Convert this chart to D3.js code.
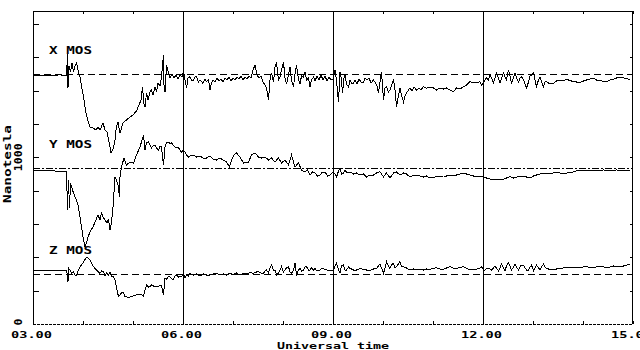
<!DOCTYPE html>
<html><head><meta charset="utf-8">
<script src="https://cdn.jsdelivr.net/npm/d3@7"></script>
<style>html,body{margin:0;padding:0;background:#fff;overflow:hidden}</style>
</head><body>
<svg id="c" width="640" height="350"></svg>
<script>
// Universal time (decimal hours), field (nanotesla, plotted offset)
const xMos = [[3.00,1490],[3.34,1490],[3.54,1495],[3.67,1490],[3.69,1620],[3.70,1416],[3.72,1548],[3.75,1512],[3.78,1566],[3.81,1512],[3.84,1548],[3.87,1566],[3.91,1512],[3.94,1482],[4.01,1362],[4.06,1266],[4.11,1206],[4.14,1182],[4.20,1176],[4.26,1164],[4.30,1182],[4.34,1164],[4.40,1206],[4.44,1164],[4.48,1152],[4.54,1062],[4.56,1026],[4.61,1056],[4.64,1104],[4.67,1188],[4.70,1212],[4.74,1146],[4.80,1206],[4.87,1224],[4.94,1242],[5.00,1254],[5.07,1278],[5.12,1314],[5.16,1344],[5.19,1422],[5.22,1320],[5.24,1302],[5.27,1386],[5.30,1344],[5.34,1392],[5.37,1404],[5.40,1374],[5.44,1422],[5.47,1392],[5.50,1446],[5.54,1428],[5.57,1482],[5.61,1614],[5.62,1434],[5.64,1392],[5.67,1554],[5.71,1506],[5.74,1476],[5.78,1500],[5.82,1476],[5.86,1494],[5.90,1470],[5.94,1494],[5.98,1482],[6.01,1514],[6.04,1464],[6.07,1416],[6.10,1476],[6.14,1484],[6.18,1458],[6.21,1464],[6.24,1482],[6.27,1484],[6.31,1452],[6.34,1464],[6.40,1444],[6.44,1470],[6.47,1454],[6.51,1464],[6.54,1404],[6.57,1446],[6.60,1464],[6.64,1452],[6.68,1476],[6.72,1458],[6.76,1470],[6.80,1452],[6.84,1476],[6.88,1464],[6.92,1482],[6.96,1458],[7.00,1476],[7.04,1464],[7.08,1482],[7.12,1470],[7.16,1488],[7.20,1464],[7.24,1482],[7.28,1470],[7.32,1488],[7.36,1476],[7.40,1524],[7.44,1554],[7.48,1494],[7.52,1476],[7.56,1488],[7.60,1452],[7.64,1434],[7.67,1416],[7.71,1344],[7.74,1464],[7.77,1506],[7.81,1452],[7.84,1542],[7.87,1572],[7.91,1464],[7.94,1482],[7.97,1524],[8.01,1572],[8.04,1476],[8.07,1440],[8.11,1494],[8.14,1542],[8.17,1464],[8.21,1422],[8.24,1500],[8.27,1554],[8.31,1464],[8.34,1440],[8.37,1488],[8.41,1482],[8.44,1512],[8.47,1464],[8.51,1476],[8.54,1422],[8.57,1464],[8.61,1482],[8.64,1458],[8.68,1488],[8.72,1464],[8.76,1494],[8.80,1464],[8.84,1488],[8.88,1458],[8.92,1482],[8.96,1464],[9.00,1470],[9.04,1524],[9.07,1464],[9.11,1332],[9.14,1512],[9.17,1464],[9.19,1386],[9.22,1476],[9.24,1494],[9.27,1440],[9.31,1422],[9.34,1464],[9.38,1440],[9.41,1446],[9.44,1464],[9.48,1440],[9.52,1470],[9.56,1452],[9.61,1452],[9.64,1476],[9.68,1464],[9.72,1476],[9.76,1446],[9.81,1464],[9.84,1452],[9.88,1428],[9.91,1386],[9.94,1452],[9.97,1512],[10.01,1344],[10.04,1416],[10.07,1422],[10.11,1392],[10.14,1404],[10.17,1434],[10.21,1464],[10.24,1404],[10.27,1302],[10.31,1374],[10.34,1416],[10.37,1374],[10.41,1332],[10.44,1368],[10.47,1386],[10.51,1404],[10.54,1416],[10.58,1398],[10.62,1422],[10.67,1404],[10.72,1416],[10.76,1404],[10.81,1424],[10.87,1414],[10.94,1422],[11.01,1416],[11.07,1404],[11.14,1416],[11.21,1410],[11.27,1416],[11.34,1404],[11.41,1394],[11.47,1416],[11.54,1410],[11.61,1424],[11.67,1434],[11.74,1454],[11.81,1446],[11.87,1448],[11.94,1454],[11.97,1434],[12.01,1444],[12.04,1464],[12.07,1476],[12.11,1464],[12.14,1494],[12.17,1476],[12.21,1446],[12.24,1476],[12.27,1506],[12.31,1476],[12.34,1446],[12.37,1476],[12.41,1506],[12.44,1482],[12.47,1464],[12.51,1524],[12.54,1488],[12.57,1446],[12.61,1476],[12.64,1506],[12.67,1476],[12.71,1452],[12.74,1476],[12.77,1484],[12.81,1464],[12.84,1440],[12.87,1416],[12.91,1452],[12.94,1488],[12.97,1494],[13.01,1506],[13.04,1464],[13.07,1424],[13.11,1464],[13.14,1484],[13.17,1452],[13.21,1424],[13.24,1452],[13.27,1454],[13.34,1440],[13.41,1444],[13.47,1458],[13.54,1464],[13.61,1461],[13.67,1468],[13.74,1461],[13.81,1454],[13.87,1452],[13.94,1448],[14.01,1458],[14.07,1464],[14.14,1470],[14.21,1474],[14.27,1464],[14.34,1464],[14.41,1454],[14.47,1454],[14.54,1464],[14.61,1468],[14.67,1476],[14.74,1478],[14.81,1476],[14.87,1474],[14.94,1464]];

const yMos = [[3.00,924],[3.24,921],[3.44,918],[3.67,918],[3.69,684],[3.71,864],[3.73,696],[3.75,846],[3.79,804],[3.84,762],[3.87,744],[3.90,714],[3.94,642],[3.97,582],[4.01,504],[4.04,462],[4.07,486],[4.10,522],[4.14,552],[4.20,582],[4.24,612],[4.30,654],[4.34,624],[4.37,666],[4.40,642],[4.44,624],[4.48,606],[4.51,630],[4.54,564],[4.57,612],[4.60,702],[4.64,882],[4.67,864],[4.70,834],[4.73,762],[4.74,882],[4.77,942],[4.82,996],[4.87,954],[4.94,972],[5.01,966],[5.07,1014],[5.14,1062],[5.21,1134],[5.24,1044],[5.27,1086],[5.31,1092],[5.34,1074],[5.37,1056],[5.41,1074],[5.44,1074],[5.47,1056],[5.51,1044],[5.54,1068],[5.57,1062],[5.61,954],[5.64,1062],[5.67,1092],[5.71,1092],[5.74,1080],[5.77,1086],[5.84,1062],[5.91,1056],[5.97,1032],[6.01,1044],[6.04,1032],[6.07,1014],[6.11,1002],[6.16,1014],[6.21,1014],[6.27,1002],[6.34,1008],[6.40,996],[6.47,996],[6.54,1008],[6.60,990],[6.67,984],[6.74,996],[6.80,984],[6.87,972],[6.93,942],[6.97,984],[7.02,1014],[7.07,1026],[7.14,1002],[7.21,966],[7.26,972],[7.31,972],[7.37,1014],[7.44,1026],[7.51,1002],[7.57,996],[7.64,1002],[7.71,984],[7.77,996],[7.84,972],[7.91,996],[7.97,966],[8.04,984],[8.11,954],[8.17,1014],[8.24,942],[8.31,966],[8.37,924],[8.44,912],[8.49,924],[8.54,894],[8.59,912],[8.64,906],[8.69,888],[8.74,894],[8.79,912],[8.84,912],[8.89,888],[8.94,894],[9.01,912],[9.04,900],[9.07,882],[9.11,918],[9.14,936],[9.17,900],[9.21,906],[9.24,924],[9.27,912],[9.34,912],[9.41,900],[9.47,906],[9.54,894],[9.61,900],[9.67,882],[9.74,894],[9.81,894],[9.87,906],[9.94,914],[10.01,882],[10.07,906],[10.14,876],[10.21,906],[10.27,912],[10.34,894],[10.41,906],[10.47,900],[10.54,882],[10.61,894],[10.67,894],[10.74,888],[10.81,882],[10.87,888],[10.94,876],[11.01,879],[11.07,884],[11.14,885],[11.21,888],[11.27,888],[11.34,894],[11.41,894],[11.47,894],[11.54,900],[11.61,904],[11.67,900],[11.74,894],[11.81,888],[11.87,884],[11.94,888],[12.01,884],[12.07,876],[12.14,870],[12.21,867],[12.27,864],[12.34,870],[12.41,868],[12.47,876],[12.54,884],[12.61,876],[12.67,880],[12.74,888],[12.81,888],[12.87,882],[12.94,876],[13.01,888],[13.07,894],[13.14,900],[13.21,904],[13.27,903],[13.34,904],[13.47,908],[13.61,904],[13.74,908],[13.87,918],[14.01,920],[14.14,918],[14.27,920],[14.41,924],[14.54,918],[14.67,924],[14.81,920],[14.94,924]];

const zMos = [[3.00,324],[3.34,324],[3.67,324],[3.69,288],[3.70,252],[3.71,336],[3.74,324],[3.77,306],[3.81,312],[3.84,294],[3.87,294],[3.91,324],[3.94,342],[4.01,372],[4.07,400],[4.10,396],[4.14,384],[4.21,344],[4.27,324],[4.34,304],[4.37,318],[4.41,312],[4.44,288],[4.47,306],[4.51,294],[4.54,312],[4.57,288],[4.61,284],[4.64,264],[4.67,216],[4.71,164],[4.74,174],[4.77,186],[4.80,192],[4.84,164],[4.88,162],[4.94,162],[5.00,168],[5.06,174],[5.14,180],[5.21,168],[5.24,204],[5.27,234],[5.31,222],[5.34,224],[5.37,234],[5.41,228],[5.44,222],[5.51,224],[5.54,234],[5.57,234],[5.61,174],[5.64,274],[5.67,270],[5.71,284],[5.74,282],[5.77,274],[5.80,264],[5.84,288],[5.87,294],[5.91,282],[5.94,284],[5.97,282],[6.01,300],[6.04,276],[6.07,294],[6.11,288],[6.14,303],[6.21,294],[6.27,300],[6.34,288],[6.41,300],[6.47,294],[6.54,294],[6.61,300],[6.67,304],[6.74,294],[6.81,300],[6.87,294],[6.94,304],[7.01,298],[7.07,306],[7.14,294],[7.21,303],[7.27,300],[7.34,309],[7.41,304],[7.47,312],[7.51,314],[7.57,303],[7.61,304],[7.64,318],[7.67,324],[7.71,306],[7.74,336],[7.77,354],[7.81,324],[7.84,324],[7.87,294],[7.91,304],[7.94,324],[7.97,344],[8.01,312],[8.04,324],[8.07,336],[8.11,344],[8.14,312],[8.17,304],[8.21,324],[8.24,364],[8.27,294],[8.31,324],[8.34,334],[8.37,318],[8.41,324],[8.44,342],[8.47,344],[8.51,324],[8.54,324],[8.57,336],[8.61,324],[8.64,334],[8.68,318],[8.74,324],[8.78,336],[8.84,328],[8.90,321],[8.94,324],[9.01,324],[9.04,348],[9.07,364],[9.11,324],[9.14,304],[9.17,348],[9.21,354],[9.24,324],[9.27,324],[9.31,342],[9.34,334],[9.41,324],[9.47,324],[9.54,332],[9.61,328],[9.67,324],[9.74,320],[9.81,330],[9.87,334],[9.91,348],[9.94,360],[9.97,336],[10.01,304],[10.04,336],[10.07,374],[10.11,348],[10.14,334],[10.17,354],[10.21,364],[10.24,336],[10.27,344],[10.31,360],[10.34,374],[10.37,348],[10.41,344],[10.47,336],[10.54,324],[10.61,330],[10.67,328],[10.74,330],[10.81,324],[10.87,330],[10.94,328],[11.01,333],[11.07,338],[11.14,330],[11.21,328],[11.27,336],[11.34,344],[11.41,334],[11.47,334],[11.54,340],[11.61,344],[11.67,334],[11.74,324],[11.81,328],[11.87,328],[11.94,336],[11.97,344],[12.01,324],[12.04,324],[12.07,334],[12.11,334],[12.14,330],[12.17,324],[12.21,336],[12.24,348],[12.27,336],[12.31,320],[12.34,336],[12.37,360],[12.41,336],[12.44,320],[12.47,348],[12.51,368],[12.54,348],[12.57,324],[12.61,342],[12.64,360],[12.67,342],[12.71,324],[12.74,342],[12.77,354],[12.81,354],[12.84,336],[12.87,324],[12.91,324],[12.94,340],[12.97,354],[13.01,320],[13.04,336],[13.07,354],[13.11,336],[13.14,324],[13.17,342],[13.21,360],[13.24,342],[13.27,334],[13.34,327],[13.41,324],[13.47,330],[13.54,334],[13.61,336],[13.67,340],[13.74,339],[13.81,338],[13.87,339],[13.94,340],[14.01,342],[14.07,344],[14.14,340],[14.21,340],[14.27,342],[14.34,344],[14.41,342],[14.47,340],[14.54,342],[14.61,348],[14.67,344],[14.74,344],[14.81,348],[14.87,352],[14.94,360]];

const seriesNames = ["X  MOS", "Y  MOS", "Z  MOS"];
const baselineValues = [1500, 935, 300];
const hourTicks = [3,4,5,6,7,8,9,10,11,12,13,14,15];
const labelHours = [3, 6, 9, 12, 15];
const labelTexts = ["03.00", "06.00", "09.00", "12.00", "15.00"];
const markerHours = [6, 9, 12];
const nTTicks = [200,400,600,800,1000,1200,1400,1600,1800];
const yLabelValues = [1000, 0];
const yLabelTexts = ["1000", "0"];
const xTitle = "Universal time";
const yTitle = "Nanotesla";

const svg = d3.select("#c");
const L = 33, R = 632, T = 11, B = 324;
const x = d3.scaleLinear().domain([3, 15]).range([33, 633]);
const y = d3.scaleLinear().domain([0, 1878]).range([B, T]);
const font = "'DejaVu Sans Mono', monospace";

const g = svg.append("g").attr("shape-rendering", "crispEdges");

// frame
g.append("line").attr("x1", L).attr("x2", R).attr("y1", T + 0.5).attr("y2", T + 0.5).attr("stroke", "#000");
g.append("line").attr("x1", L + 0.5).attr("x2", L + 0.5).attr("y1", T).attr("y2", B).attr("stroke", "#000");
g.append("line").attr("x1", R + 0.5).attr("x2", R + 0.5).attr("y1", T).attr("y2", B).attr("stroke", "#000");
g.append("line").attr("x1", L).attr("x2", R + 1).attr("y1", B + 0.5).attr("y2", B + 0.5)
  .attr("stroke", "#000").attr("stroke-dasharray", "3,1");

// top ticks (inward)
const topAxis = d3.axisBottom(x).tickValues(hourTicks).tickSize(3).tickFormat("");
g.append("g").attr("transform", `translate(0,${T})`).call(topAxis).call(s => s.select(".domain").remove());
// bottom ticks (inward, up)
const botAxis = d3.axisTop(x).tickValues(hourTicks).tickSize(3).tickFormat("");
g.append("g").attr("transform", `translate(0,${B})`).call(botAxis).call(s => s.select(".domain").remove());
// left ticks
const leftAxis = d3.axisRight(y).tickValues(nTTicks).tickSize(6).tickFormat("");
g.append("g").attr("transform", `translate(${L},0)`).call(leftAxis).call(s => s.select(".domain").remove());
// right ticks
const rightAxis = d3.axisLeft(y).tickValues(nTTicks).tickSize(3).tickFormat("");
g.append("g").attr("transform", `translate(${R + 1},0)`).call(rightAxis).call(s => s.select(".domain").remove());

// vertical hour markers
g.selectAll("line.mk").data(markerHours).join("line").attr("class", "mk")
  .attr("x1", d => Math.round(x(d)) + 0.5).attr("x2", d => Math.round(x(d)) + 0.5)
  .attr("y1", T).attr("y2", B).attr("stroke", "#000");

// baselines
const dashes = ["7,4", "7,2,2,2", "7,4"];
g.selectAll("line.bl").data(baselineValues).join("line").attr("class", "bl")
  .attr("x1", L).attr("x2", R)
  .attr("y1", d => Math.round(y(d)) + 0.5).attr("y2", d => Math.round(y(d)) + 0.5)
  .attr("stroke", "#000").attr("stroke-dasharray", (d, i) => dashes[i]);

// traces
const line = d3.line().x(d => x(d[0])).y(d => y(d[1]));
g.selectAll("path.tr").data([xMos, yMos, zMos]).join("path").attr("class", "tr")
  .attr("d", line).attr("fill", "none").attr("stroke", "#000").attr("stroke-width", 1);

// series labels
svg.selectAll("text.sn").data(seriesNames).join("text").attr("class", "sn")
  .attr("x", 49).attr("y", (d, i) => y(baselineValues[i]) - 20.5)
  .attr("font-family", font).attr("font-weight", "bold").attr("font-size", 10)
  .attr("textLength", 43).attr("lengthAdjust", "spacingAndGlyphs")
  .text(d => d);

// x tick labels
svg.selectAll("text.xl").data(labelHours).join("text").attr("class", "xl")
  .attr("x", d => x(d) - 1.5).attr("y", 338).attr("text-anchor", "middle")
  .attr("font-family", font).attr("font-weight", "bold").attr("font-size", 9.5)
  .attr("textLength", 41).attr("lengthAdjust", "spacingAndGlyphs")
  .text((d, i) => labelTexts[i]);

svg.append("text").attr("x", x(9)).attr("y", 349).attr("text-anchor", "middle")
  .attr("font-family", font).attr("font-weight", "bold").attr("font-size", 9)
  .attr("textLength", 112).attr("lengthAdjust", "spacingAndGlyphs").text(xTitle);

// y labels (rotated)
svg.selectAll("text.yl").data(yLabelValues).join("text").attr("class", "yl")
  .attr("transform", d => `translate(22,${y(d) - (d === 0 ? 2 : 0)}) rotate(-90)`)
  .attr("text-anchor", "middle")
  .attr("font-family", font).attr("font-weight", "bold").attr("font-size", 10)
  .text((d, i) => yLabelTexts[i])
  .each(function(d, i){ const n = yLabelTexts[i].length; d3.select(this).attr("textLength", n * 7).attr("lengthAdjust", "spacingAndGlyphs"); });

svg.append("text").attr("transform", `translate(10.5,164) rotate(-90)`).attr("text-anchor", "middle")
  .attr("font-family", font).attr("font-weight", "bold").attr("font-size", 10)
  .attr("textLength", 78).attr("lengthAdjust", "spacingAndGlyphs").text(yTitle);
</script>
</body></html>
